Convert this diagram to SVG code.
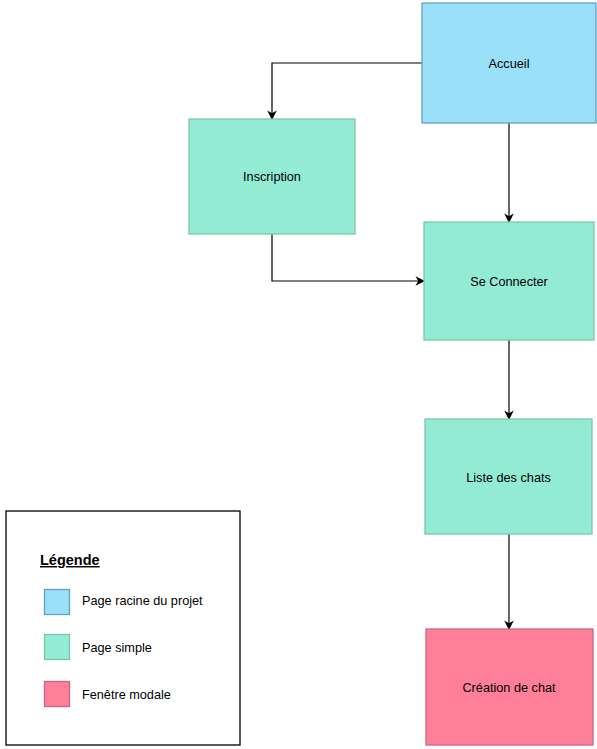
<svg xmlns="http://www.w3.org/2000/svg" width="597" height="749" viewBox="0 0 597 749">
<defs>
<marker id="arr" viewBox="0 0 10 10" refX="9" refY="5" markerWidth="9.5" markerHeight="9.5" markerUnits="userSpaceOnUse" orient="auto">
<path d="M0,0 L10,5 L0,10 L3,5 z" fill="#000"/>
</marker>
</defs>
<style>
text{font-family:"Liberation Sans",Arial,sans-serif;font-size:12.7px;fill:#000}
.root{fill:#9ae0f8;stroke:#5ea4c2;stroke-width:1.3}
.page{fill:#93ebd4;stroke:#7cc6ad;stroke-width:1.3}
.modal{fill:#ff7e9a;stroke:#c9677f;stroke-width:1.3}
.edge{fill:none;stroke:#000;stroke-width:1.2;marker-end:url(#arr)}
.title{font-weight:bold;font-size:14.5px;text-decoration:underline}
</style>
<rect width="597" height="749" fill="#fff"/>
<g id="connectors">
<path class="edge" d="M422,63 H272 V119"/>
<path class="edge" d="M509,123 V222"/>
<path class="edge" d="M272,234 V281 H424"/>
<path class="edge" d="M509,340 V419"/>
<path class="edge" d="M509,534 V629"/>
</g>
<g id="accueil">
<rect class="root" x="422" y="3" width="174" height="120"/>
<text x="509" y="67.5" text-anchor="middle">Accueil</text>
</g>
<g id="inscription">
<rect class="page" x="189" y="119" width="166" height="115"/>
<text x="272" y="181" text-anchor="middle">Inscription</text>
</g>
<g id="se-connecter">
<rect class="page" x="424" y="222" width="170" height="118"/>
<text x="509" y="286" text-anchor="middle">Se Connecter</text>
</g>
<g id="liste-chats">
<rect class="page" x="425" y="419" width="167" height="115"/>
<text x="508.5" y="482" text-anchor="middle">Liste des chats</text>
</g>
<g id="creation-chat">
<rect class="modal" x="426" y="629" width="167" height="116"/>
<text x="509" y="692" text-anchor="middle">Création de chat</text>
</g>
<g id="legend">
<rect x="6" y="511" width="234" height="234" fill="#fff" stroke="#000" stroke-width="1.3"/>
<text class="title" x="40" y="565">Légende</text>
<rect class="root" x="44.5" y="589.5" width="25" height="25"/>
<text x="82" y="605">Page racine du projet</text>
<rect class="page" x="44.5" y="634.5" width="25" height="25"/>
<text x="82" y="652">Page simple</text>
<rect class="modal" x="44.5" y="681.5" width="25" height="25"/>
<text x="82" y="699">Fenêtre modale</text>
</g>
</svg>
